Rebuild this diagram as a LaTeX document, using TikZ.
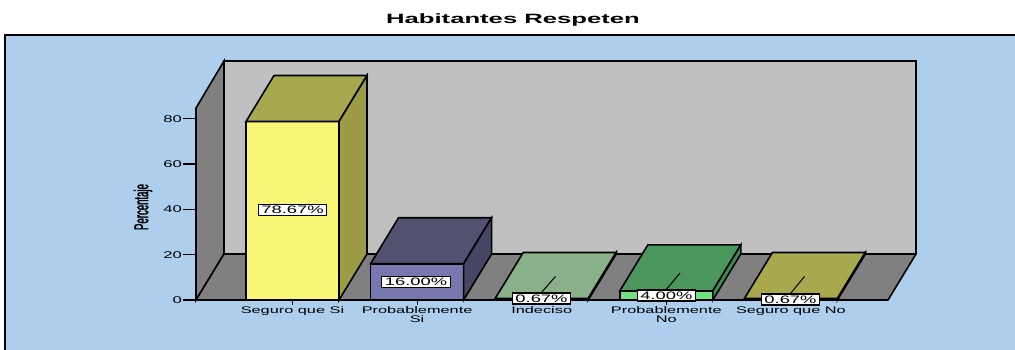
\documentclass[tikz,border=0pt]{standalone}
\usepackage{fontspec}
\setmainfont{Liberation Sans}
\newfontfamily\widefont[FakeStretch=1.7]{Liberation Sans}
\newfontfamily\titlefont[FakeStretch=1.9]{Liberation Sans}
\newfontfamily\narrowfont[FakeStretch=0.48,FakeBold=1.5]{Liberation Sans}
\definecolor{bgblue}{RGB}{173,207,237}
\definecolor{wallback}{RGB}{192,192,192}
\definecolor{wallside}{RGB}{128,128,128}
\definecolor{yfront}{RGB}{249,247,120}
\definecolor{ytop}{RGB}{168,168,78}
\definecolor{yside}{RGB}{156,156,70}
\definecolor{pfront}{RGB}{120,120,176}
\definecolor{ptop}{RGB}{82,82,112}
\definecolor{pside}{RGB}{70,70,100}
\definecolor{sgfront}{RGB}{176,224,176}
\definecolor{sgtop}{RGB}{138,176,138}
\definecolor{sgside}{RGB}{120,160,120}
\definecolor{gfront}{RGB}{112,224,128}
\definecolor{gtop}{RGB}{74,150,92}
\definecolor{gside}{RGB}{64,138,82}
\newcommand\drawbar[6]{%
  \path[barline,fill=#4] (#1,#3) rectangle (#2,300);
  \path[barline,fill=#5] (#1,#3) -- ({#1+28},{#3-46}) -- ({#2+28},{#3-46}) -- (#2,#3) -- cycle;
  \path[barline,fill=#6] (#2,#3) -- ({#2+28},{#3-46}) -- ({#2+28},254) -- (#2,300) -- cycle;
}
\begin{document}
\begin{tikzpicture}[x=1pt,y=-1pt,
  barline/.style={draw=black,line width=1.6pt,line join=miter},
  wallline/.style={draw=black,line width=1.6pt},
  vallabel/.style={draw=black,fill=white,line width=1.2pt,inner xsep=3pt,inner ysep=1.6pt,
    font=\widefont\fontsize{10.8}{10.8}\selectfont},
  catlabel/.style={anchor=north,align=center,inner sep=0pt,
    font=\widefont\fontsize{9.6}{9}\selectfont},
  ticklabel/.style={anchor=east,inner sep=0pt,font=\widefont\fontsize{9.8}{9.8}\selectfont},
  leader/.style={draw=black,line width=1pt}]
\useasboundingbox (0,0) rectangle (1015,350);
\fill[white] (0,0) rectangle (1015,350);
% frame
\path[fill=bgblue,draw=black,line width=1.6pt] (5,35) rectangle (1040,380);
% title
\node[font=\titlefont\bfseries\fontsize{13.5}{13.5}\selectfont] (title) at (513,20) {Habitantes Respeten};
% walls
\path[wallline,fill=wallback] (224,61) -- (916,61) -- (916,254) -- (224,254) -- cycle;
\path[wallline,fill=wallside] (196,108) -- (224,61) -- (224,254) -- (196,300) -- cycle;
\path[wallline,fill=wallside] (196,300) -- (224,254) -- (916,254) -- (888,300) -- cycle;
% axis ticks
\foreach \v/\yy in {0/300,20/254.7,40/209.3,60/164,80/118.7}{
  \draw[line width=1.4pt] (183,\yy) -- (196,\yy);
  \node[ticklabel] (t\v) at (182,\yy) {\v};
}
\node[rotate=90,font=\narrowfont\fontsize{20}{20}\selectfont] (ylab) at (143,207) {Percentaje};
% category ticks
\foreach \cx in {292.5,417.1,541.7,666.3,790.9}{
  \draw[line width=1.2pt] (\cx,300) -- (\cx,305);
}
% bars
\drawbar{246}{339}{121.5}{yfront}{ytop}{yside}
\drawbar{370.6}{463.6}{263.7}{pfront}{ptop}{pside}
\drawbar{495.2}{588.2}{298.5}{sgfront}{sgtop}{sgside}
\drawbar{619.8}{712.8}{290.9}{gfront}{gtop}{gside}
\drawbar{744.4}{837.4}{298.5}{yfront}{ytop}{yside}
% value labels
\node[vallabel] (v1) at (292.5,210) {78.67\%};
\node[vallabel] (v2) at (416,282) {16.00\%};
\coordinate (c3) at (555.5,276.5);
\coordinate (c4) at (680,273);
\coordinate (c5) at (804.5,276.5);
\node[vallabel] (v3) at (541.5,298.5) {0.67\%};
\node[vallabel] (v4) at (666.3,295.5) {4.00\%};
\node[vallabel] (v5) at (790.5,299.5) {0.67\%};
\draw[leader] (c3) -- (v3.north);
\draw[leader] (c4) -- (v4.north);
\draw[leader] (c5) -- (v5.north);
% category labels
\node[catlabel] (k1) at (292.5,306.5) {Seguro que Si};
\node[catlabel] (k2) at (417.1,306.5) {Probablemente\\Si};
\node[catlabel] (k3) at (541.7,306.5) {Indeciso};
\node[catlabel] (k4) at (666.3,306.5) {Probablemente\\No};
\node[catlabel] (k5) at (790.9,306.5) {Seguro que No};
\end{tikzpicture}
\end{document}
